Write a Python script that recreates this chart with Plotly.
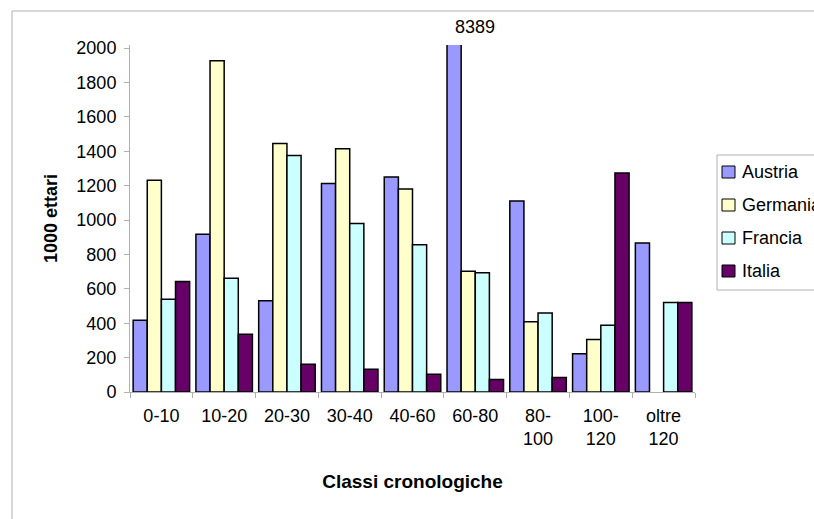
import plotly.graph_objects as go

classi = ["0-10", "10-20", "20-30", "30-40", "40-60", "60-80", "80-<br>100", "100-<br>120", "oltre<br>120"]
austria = [417, 917, 530, 1212, 1251, 8389, 1111, 223, 867]
germania = [1232, 1926, 1445, 1414, 1181, 702, 409, 306, None]
francia = [539, 661, 1375, 980, 857, 693, 460, 388, 520]
italia = [642, 336, 161, 132, 103, 72, 84, 1274, 520]

serie = [
    ("Austria", austria, "#9999FF"),
    ("Germania", germania, "#FFFFCC"),
    ("Francia", francia, "#CCFFFF"),
    ("Italia", italia, "#660066"),
]

FONT = "Liberation Sans, Arial, sans-serif"
NERO = "#000000"
GRIGIO = "#b0b0b0"

fig = go.Figure()
for nome, valori, colore in serie:
    fig.add_trace(go.Bar(
        name=nome, x=classi, y=valori, showlegend=False,
        marker=dict(color=colore, line=dict(color=NERO, width=1.5)),
    ))

# value label for the bar that runs off the top of the axis
i_max = austria.index(max(austria))
fig.add_annotation(
    x=classi[i_max], y=2000, xref="x", yref="y",
    text=str(austria[i_max]), showarrow=False,
    yanchor="bottom", yshift=9, font=dict(family=FONT, size=18, color=NERO),
)

L, R, T, B = 130, 119, 45, 127
W, H = 814 - L - R, 519 - T - B

def px(xp):
    return (xp - L) / W

def py(yp):
    return (519 - B - yp) / H

# chart area frame
fig.add_shape(type="rect", xref="paper", yref="paper",
              x0=px(12), x1=px(900), y0=py(600), y1=py(11),
              line=dict(color=GRIGIO, width=1), fillcolor="rgba(0,0,0,0)", layer="below")

# legend box, running past the right edge of the page
fig.add_shape(type="rect", xref="paper", yref="paper",
              x0=px(717), x1=px(900), y0=py(290), y1=py(155),
              line=dict(color=GRIGIO, width=1), fillcolor="white")
for k, (nome, _, colore) in enumerate(serie):
    yc = 172 + 33 * k
    fig.add_shape(type="rect", xref="paper", yref="paper",
                  x0=px(722), x1=px(735), y0=py(yc + 6), y1=py(yc - 6),
                  line=dict(color=NERO, width=1), fillcolor=colore)
    fig.add_annotation(x=px(740), y=py(yc), xref="paper", yref="paper",
                       text=nome, showarrow=False, xanchor="left", yanchor="middle",
                       font=dict(family=FONT, size=18, color=NERO))

fig.update_layout(
    width=814, height=519,
    margin=dict(l=L, r=R, t=T, b=B),
    paper_bgcolor="white", plot_bgcolor="white",
    barmode="group", bargap=0.1, bargroupgap=0,
    font=dict(family=FONT, size=18, color=NERO),
    showlegend=False,
    xaxis=dict(
        showline=True, linecolor=GRIGIO, linewidth=1,
        ticks="outside", tickson="boundaries", ticklen=5, tickcolor=GRIGIO,
        tickfont=dict(family=FONT, size=18, color=NERO),
        ticklabelstandoff=7,
        title=dict(text="<b>Classi cronologiche</b>", font=dict(family=FONT, size=19, color=NERO), standoff=26),
        showgrid=False, fixedrange=True,
    ),
    yaxis=dict(
        range=[0, 2018], tickvals=list(range(0, 2001, 200)),
        showline=True, linecolor=GRIGIO, linewidth=1,
        ticks="outside", ticklen=5, tickcolor=GRIGIO,
        tickfont=dict(family=FONT, size=18, color=NERO),
        ticklabelstandoff=4,
        title=dict(text="<b>1000 ettari</b>", font=dict(family=FONT, size=18, color=NERO), standoff=14),
        showgrid=False, zeroline=False, fixedrange=True,
    ),
)

fig.write_html("out.html")
